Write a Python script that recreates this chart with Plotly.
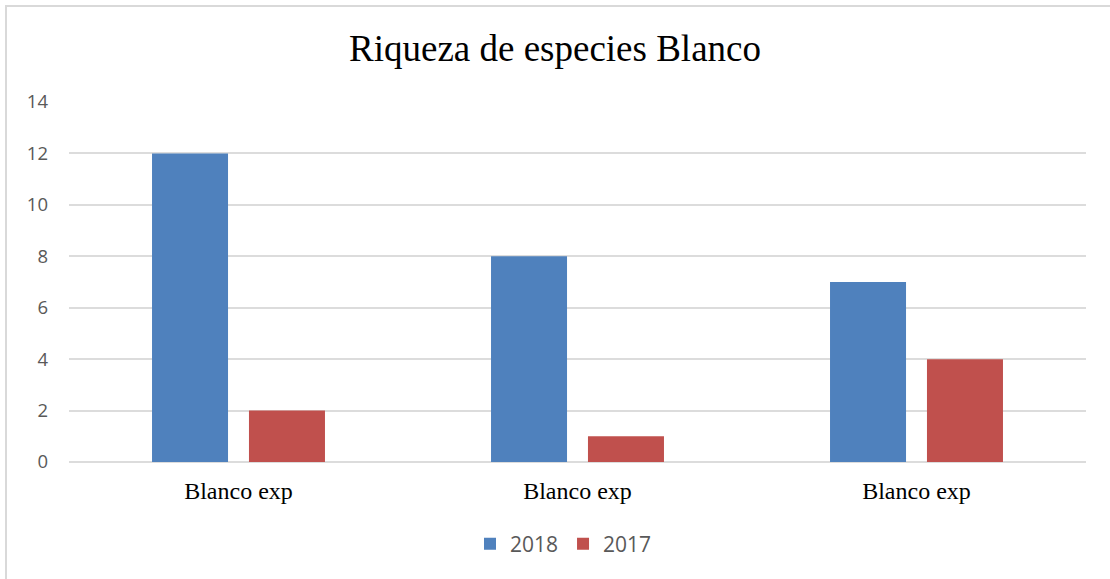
import plotly.graph_objects as go

categories = ["Blanco exp", "Blanco exp", "Blanco exp"]
series_2018 = [12, 8, 7]
series_2017 = [2, 1, 4]
y_ticks = [0, 2, 4, 6, 8, 10, 12, 14]

idx = list(range(len(categories)))

fig = go.Figure()
fig.add_trace(go.Bar(x=idx, y=series_2018, name="2018", marker=dict(color="#4F81BD", line=dict(width=0))))
fig.add_trace(go.Bar(x=idx, y=series_2017, name="2017", marker=dict(color="#C0504D", line=dict(width=0))))

W, H = 1110, 579
l, r, t, b = 69, 24, 102, 117
pw, ph = W - l - r, H - t - b

fig.update_layout(
    width=W, height=H,
    margin=dict(l=l, r=r, t=t, b=b),
    paper_bgcolor="white", plot_bgcolor="white",
    barmode="group", bargap=0.428, bargroupgap=0.216,
    title=dict(text="Riqueza de especies Blanco", x=0.5, xanchor="center", y=1 - 48 / H, yanchor="middle",
               font=dict(family="Liberation Serif", size=37, color="black")),
    xaxis=dict(tickmode="array", tickvals=idx, ticktext=categories, range=[-0.5, len(idx) - 0.5],
               showgrid=False, zeroline=False, showline=False, ticks="",
               ticklabelstandoff=12,
               tickfont=dict(family="Liberation Serif", size=24, color="black")),
    yaxis=dict(range=[0, 14], tickvals=y_ticks, showgrid=True, gridcolor="#DCDCDC", gridwidth=1.6,
               zeroline=True, zerolinecolor="#DCDCDC", zerolinewidth=1.6, showline=False, ticks="",
               ticklabelstandoff=20,
               tickfont=dict(family="Open Sans", size=18.5, color="#595959")),
    legend=dict(orientation="h", x=0.5 - 14 / pw, xanchor="center", y=(462 - 544) / ph, yanchor="middle",
                font=dict(family="Open Sans", size=21, color="#595959"), itemwidth=30),
    shapes=[dict(type="rect", xref="paper", yref="paper",
                 x0=(6 - l) / pw, x1=(1115 - l) / pw, y0=(462 - 585) / ph, y1=1 + (t - 6) / ph,
                 line=dict(color="#D9D9D9", width=2), layer="below")],
)

fig.write_html("out.html", config={"displayModeBar": False},
               post_script="document.body.style.margin='0';document.documentElement.style.margin='0';")
